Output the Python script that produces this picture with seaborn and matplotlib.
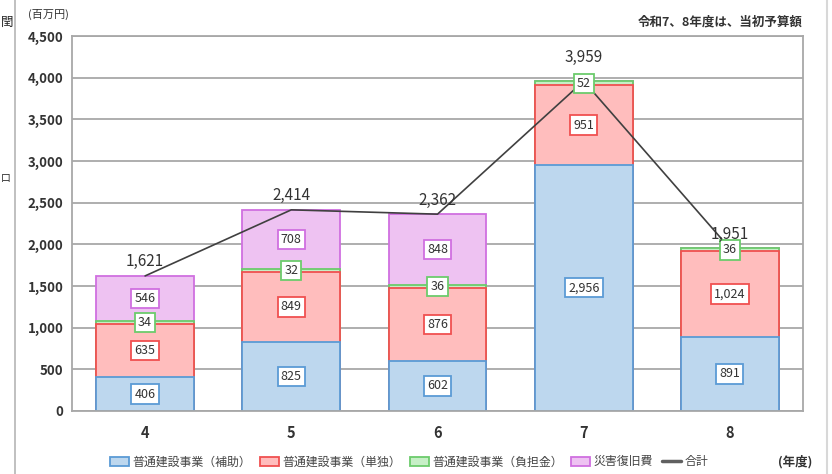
import numpy as np
import pandas as pd
import matplotlib
matplotlib.use("Agg")
import matplotlib.pyplot as plt
from matplotlib.patches import Patch
from matplotlib.lines import Line2D
import seaborn as sns

years = ["4", "5", "6", "7", "8"]
hojo = [406, 825, 602, 2956, 891]        # 普通建設事業（補助）
tandoku = [635, 849, 876, 951, 1024]     # 普通建設事業（単独）
futankin = [34, 32, 36, 52, 36]          # 普通建設事業（負担金）
saigai = [546, 708, 848, 0, 0]           # 災害復旧費
totals = [1621, 2414, 2362, 3959, 1951]  # 合計

series_names = ["普通建設事業（補助）", "普通建設事業（単独）", "普通建設事業（負担金）", "災害復旧費"]
fills = ["#BDD7EE", "#FFBDBD", "#C6EFC6", "#EEC2F2"]
edges = ["#5B9BD5", "#F05050", "#6CCB6C", "#D070E0"]

sns.set_theme(style="white")
plt.rcParams["font.family"] = ["Noto Sans CJK JP", "DejaVu Sans"]

fig = plt.figure(figsize=(8.32, 4.74), dpi=100)
ax = fig.add_axes([72 / 832, 1 - 411 / 474, 731 / 832, 375 / 474])

vals = [hojo, tandoku, futankin, saigai]
cum = np.cumsum(np.array(vals), axis=0)
df = pd.DataFrame({"year": years})
for i in range(4):
    df[f"c{i}"] = cum[i]

# draw cumulative bars from top layer down
for i in [3, 2, 1, 0]:
    sns.barplot(data=df, x="year", y=f"c{i}", ax=ax, color=fills[i],
                edgecolor=edges[i], linewidth=1.3, width=0.67,
                saturation=1, zorder=2 + (3 - i) * 0.1)

# total line
line_df = pd.DataFrame({"x": np.arange(len(years)), "total": totals})
sns.lineplot(data=line_df, x="x", y="total", ax=ax, color="#404040",
             linewidth=1.2, zorder=4)

# segment labels
bottoms = np.zeros(len(years))
for i in range(4):
    for j in range(len(years)):
        v = vals[i][j]
        if v > 0:
            yc = bottoms[j] + v / 2
            ax.text(j, yc, f"{v:,}", ha="center", va="center", fontsize=9,
                    color="#333333", zorder=6,
                    bbox=dict(boxstyle="square,pad=0.25", fc="white",
                              ec=edges[i], lw=1.3))
    bottoms += np.array(vals[i])

# total labels
for j, t in enumerate(totals):
    off = 11 if j == 3 else 4
    ax.annotate(f"{t:,}", (j, t), xytext=(0, off), textcoords="offset points",
                ha="center", va="bottom", fontsize=11, color="#333333", zorder=6)

ax.set_xlim(-0.5, 4.5)
ax.set_ylim(0, 4500)
ax.set_yticks(np.arange(0, 4501, 500))
ax.set_yticklabels([f"{v:,}" for v in range(0, 4501, 500)], fontsize=9.5,
                   color="#333333", fontweight="bold")
ax.set_xticks(range(5))
ax.set_xticklabels(years, fontsize=10.5, fontweight="bold", color="#333333")
ax.tick_params(axis="x", length=0, pad=10)
ax.tick_params(axis="y", length=0, pad=6)
ax.set_xlabel("")
ax.set_ylabel("")
ax.grid(axis="y", color="#A8A8A8", linewidth=1.3, zorder=0)
ax.set_axisbelow(True)
for s in ax.spines.values():
    s.set_color("#A8A8A8")
    s.set_linewidth(1.3)

fig.text(28 / 832, 1 - 14 / 474, "(百万円)", fontsize=8, color="#333333",
         ha="left", va="center")
fig.text(803 / 832, 1 - 22 / 474, "令和7、8年度は、当初予算額", fontsize=9,
         fontweight="bold", color="#333333", ha="right", va="center")

handles = [Patch(facecolor=fills[i], edgecolor=edges[i], linewidth=1.3) for i in range(4)]
handles.append(Line2D([0], [0], color="#606060", linewidth=2.5))
labels = series_names + ["合計"]
leg = fig.legend(handles, labels, loc="center", bbox_to_anchor=(409 / 832, 1 - 462 / 474),
                 ncol=5, frameon=False, fontsize=8.6, handlelength=1.6, handleheight=0.7,
                 handletextpad=0.3, columnspacing=0.7, labelcolor="#444444")
fig.text(812 / 832, 1 - 462 / 474, "(年度)", fontsize=9, fontweight="bold",
         color="#333333", ha="right", va="center")

# screenshot frame lines
fig.add_artist(Line2D([15 / 832, 15 / 832], [0, 1], color="#B5B5B5", lw=1.2))
fig.add_artist(Line2D([827 / 832, 827 / 832], [0, 1], color="#D8D8D8", lw=1.5))
fig.text(0.5 / 832, 1 - 22 / 474, "閏", fontsize=9, color="#222222", ha="left", va="center")
fig.text(0.5 / 832, 1 - 178 / 474, "口", fontsize=7, color="#222222", ha="left", va="center")

fig.savefig("out.png", dpi=100)
